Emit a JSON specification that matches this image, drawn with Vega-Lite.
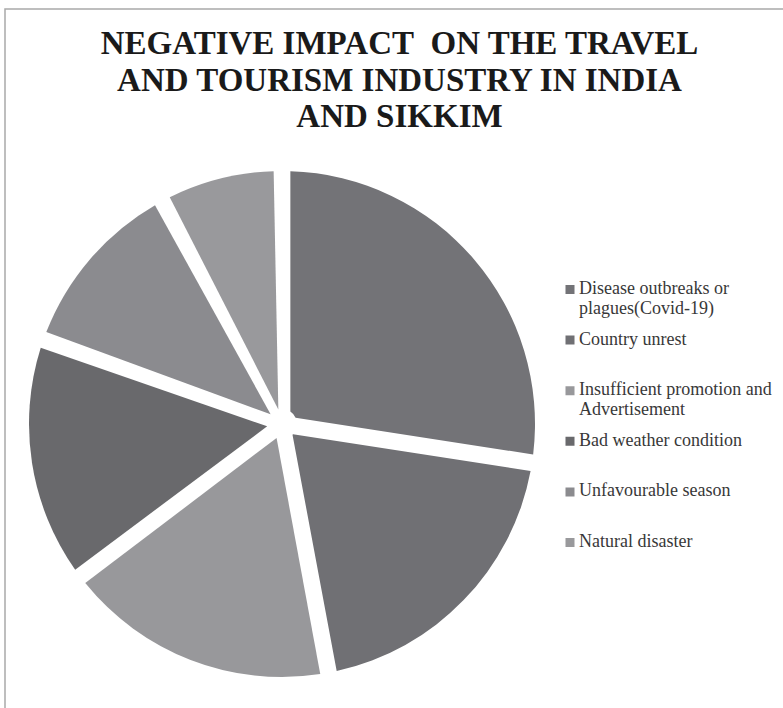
{
  "$schema": "https://vega.github.io/schema/vega-lite/v6.json",
  "width": 781,
  "height": 702,
  "autosize": {"type": "none"},
  "padding": {"left": 5, "top": 9, "right": -3, "bottom": -3},
  "background": "white",
  "view": {"stroke": "#a9a9a9", "strokeWidth": 1.5},
  "title": {
    "text": ["NEGATIVE IMPACT\u00a0 ON THE TRAVEL", "AND TOURISM INDUSTRY IN INDIA", "AND SIKKIM"],
    "font": "Liberation Serif",
    "fontSize": 33,
    "fontWeight": "bold",
    "color": "#1a1a1a",
    "lineHeight": 36.5,
    "anchor": "middle",
    "frame": "group",
    "baseline": "top",
    "offset": -125,
    "dx": 4
  },
  "data": {
    "values": [
      {"cause": "Disease outbreaks or plagues(Covid-19)", "value": 14},
      {"cause": "Country unrest", "value": 10},
      {"cause": "Insufficient promotion and Advertisement", "value": 9},
      {"cause": "Bad weather condition", "value": 8},
      {"cause": "Unfavourable season", "value": 6},
      {"cause": "Natural disaster", "value": 4}
    ]
  },
  "mark": {
    "type": "arc",
    "x": 277,
    "y": 415,
    "outerRadius": 253,
    "innerRadius": 15,
    "padAngle": 0.066,
    "stroke": null
  },
  "encoding": {
    "theta": {"field": "value", "type": "quantitative", "stack": true},
    "order": {"field": "value", "type": "quantitative", "sort": "descending"},
    "color": {
      "field": "cause",
      "type": "nominal",
      "scale": {
        "domain": [
          "Disease outbreaks or plagues(Covid-19)",
          "Country unrest",
          "Insufficient promotion and Advertisement",
          "Bad weather condition",
          "Unfavourable season",
          "Natural disaster"
        ],
        "range": ["#737377", "#707074", "#98989b", "#69696c", "#8b8b8f", "#99999c"]
      },
      "legend": {
        "title": null,
        "orient": "none",
        "legendX": 556,
        "legendY": 261,
        "padding": 0,
        "symbolType": "M-1,-2H1V0H-1Z",
        "symbolSize": 81,
        "symbolStrokeWidth": 0,
        "labelFont": "Liberation Serif",
        "labelFontSize": 18,
        "labelColor": "#383838",
        "labelLineHeight": 20,
        "labelBaseline": "alphabetic",
        "labelOffset": 0,
        "labelLimit": 300,
        "clipHeight": 48,
        "rowPadding": 2.6,
        "labelExpr": "datum.label === 'Disease outbreaks or plagues(Covid-19)' ? ['Disease outbreaks or', 'plagues(Covid-19)'] : datum.label === 'Insufficient promotion and Advertisement' ? ['Insufficient promotion and', 'Advertisement'] : datum.label"
      }
    }
  }
}
